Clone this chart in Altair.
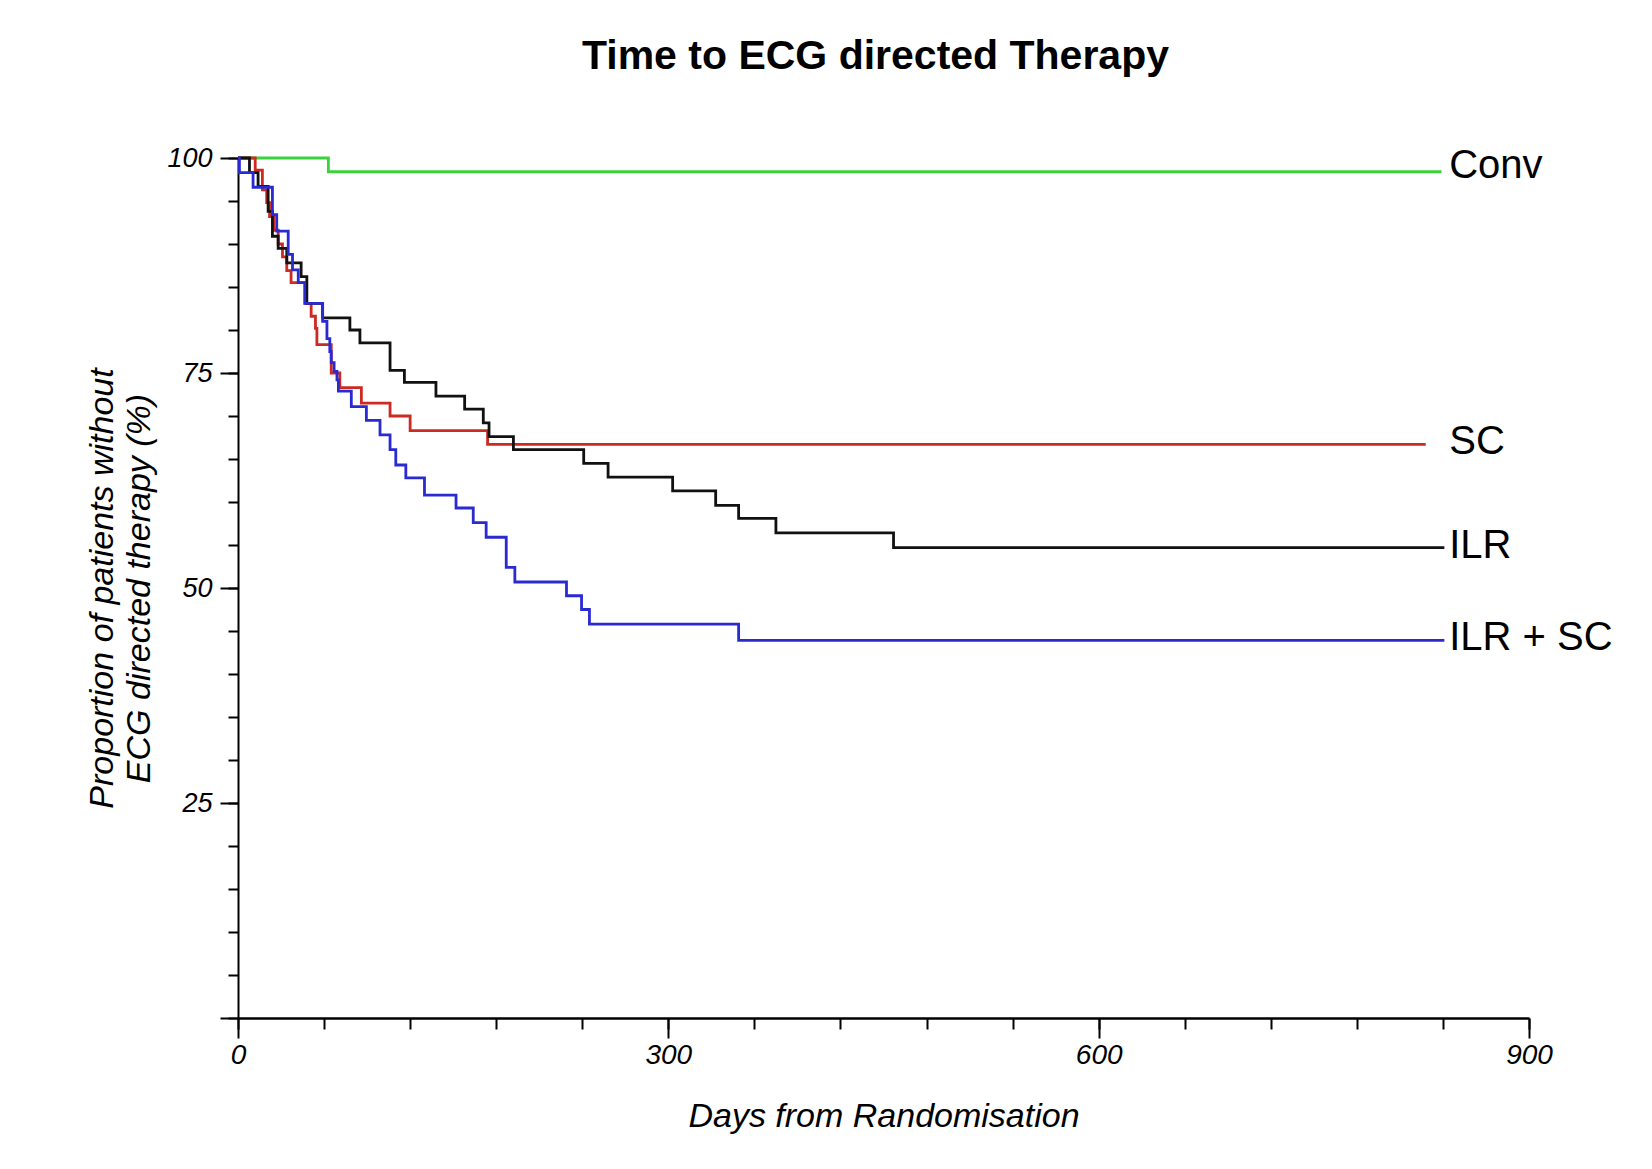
import altair as alt
import pandas as pd

# ---- data (Kaplan-Meier style step curves) ----
groups = ["Conv", "SC", "ILR", "ILR + SC"]
colors = ["#3ad23a", "#cc2a22", "#111111", "#2a2ad2"]

conv_days = [0, 63, 839]
conv_surv = [100, 98.4, 98.4]

sc_days = [0, 12, 17, 20, 22, 25, 28, 31, 34, 37, 47, 51, 54, 55, 65, 71, 86, 106, 120, 174, 828]
sc_surv = [100, 98.6, 96.3, 94.8, 93.2, 91.6, 90.0, 88.5, 86.9, 85.5, 83.1, 81.6, 80.2, 78.3,
           75.0, 73.3, 71.5, 70.0, 68.3, 66.7, 66.7]

ilr_days = [0, 8, 14, 21, 24, 28, 34, 44, 48, 59, 78, 85, 106, 116, 138, 158, 171, 175, 192,
            241, 258, 303, 333, 349, 375, 457, 841]
ilr_surv = [100, 98.3, 96.7, 93.8, 90.9, 89.5, 87.8, 86.2, 83.1, 81.4, 80.0, 78.5, 75.3, 73.9,
            72.3, 70.8, 69.2, 67.6, 66.1, 64.5, 62.9, 61.3, 59.6, 58.1, 56.4, 54.7, 54.7]

ilrsc_days = [0, 1, 10.5, 24, 27, 35, 38, 42, 46.5, 59, 62, 64, 65, 67, 69, 70, 79, 89.5, 99,
              106, 110, 117, 130, 152, 164, 173, 187, 193, 229, 239.5, 245, 349, 841]
ilrsc_surv = [100, 98.3, 96.6, 93.4, 91.5, 88.8, 87.0, 85.5, 83.1, 81.0, 79.0, 77.5, 76.2, 75.2,
              74.2, 72.9, 71.1, 69.5, 67.8, 66.1, 64.3, 62.8, 60.8, 59.3, 57.6, 55.9, 52.4, 50.7,
              49.1, 47.5, 45.8, 43.9, 43.9]

x_major = [0, 300, 600, 900]
x_minor = list(range(0, 901, 60))
y_major = [0, 25, 50, 75, 100]
y_minor = list(range(0, 101, 5))

title_text = "Time to ECG directed Therapy"
x_title = "Days from Randomisation"
y_title = ["Proportion of patients without", "ECG directed therapy (%)"]

# ---- build tables ----
series = [
    ("Conv", conv_days, conv_surv),
    ("SC", sc_days, sc_surv),
    ("ILR", ilr_days, ilr_surv),
    ("ILR + SC", ilrsc_days, ilrsc_surv),
]
rows = []
for g, ds, ss in series:
    for d, s in zip(ds, ss):
        rows.append({"group": g, "day": d, "surv": s})
df = pd.DataFrame(rows)

label_df = pd.DataFrame({
    "group": groups,
    "day": [843] * 4,
    "surv": [conv_surv[-1], sc_surv[-1], ilr_surv[-1], ilrsc_surv[-1]],
    "label": groups,
})

FONT = "Liberation Sans"
x_scale = alt.Scale(domain=[0, 900], nice=False, zero=False)
y_scale = alt.Scale(domain=[0, 100], nice=False, zero=False)
color_scale = alt.Scale(domain=groups, range=colors)

lines = alt.Chart(df).mark_line(interpolate="step-after", strokeWidth=2.8).encode(
    x=alt.X("day:Q", scale=x_scale, axis=alt.Axis(
        values=x_major, title=x_title, orient="bottom", tickSize=20, tickWidth=2,
        domainWidth=2.5, labelFontSize=28, labelFontStyle="italic", labelFont=FONT,
        labelPadding=3, labelFlush=False, labelOverlap=False,
        titleFontSize=34, titleFontStyle="italic", titleFontWeight="normal",
        titleFont=FONT, titlePadding=30, grid=False)),
    y=alt.Y("surv:Q", scale=y_scale, axis=alt.Axis(
        values=y_major, title=y_title, orient="left", tickSize=18, tickWidth=2,
        domainWidth=2, labelFontSize=27, labelFontStyle="italic", labelFont=FONT,
        labelPadding=8, labelFlush=False, labelOverlap=False,
        labelExpr="datum.value == 0 ? '' : datum.label",
        titleFontSize=34, titleFontStyle="italic", titleFontWeight="normal",
        titleFont=FONT, titlePadding=10, titleLineHeight=37, grid=False)),
    color=alt.Color("group:N", scale=color_scale, legend=None),
    order=alt.Order("day:Q"),
)

minor = alt.Chart(df).mark_point(opacity=0).encode(
    x=alt.X("day:Q", scale=x_scale, axis=alt.Axis(
        values=x_minor, labels=False, domain=False, title=None, orient="bottom",
        tickSize=11, tickWidth=2, grid=False)),
    y=alt.Y("surv:Q", scale=y_scale, axis=alt.Axis(
        values=y_minor, labels=False, domain=False, title=None, orient="left",
        tickSize=10, tickWidth=2, grid=False)),
)

text_base = alt.Chart(label_df).encode(
    x=alt.X("day:Q", scale=x_scale, axis=None),
    y=alt.Y("surv:Q", scale=y_scale, axis=None),
    text="label:N",
)
labels_conv = text_base.transform_filter(alt.datum.group == "Conv").mark_text(
    align="left", baseline="middle", fontSize=40, font=FONT, color="black", dx=2, dy=-6
)
labels_rest = text_base.transform_filter(alt.datum.group != "Conv").mark_text(
    align="left", baseline="middle", fontSize=40, font=FONT, color="black", dx=2, dy=-2
)

chart = alt.layer(lines, minor, labels_conv, labels_rest).resolve_axis(
    x="independent", y="independent"
).properties(
    width=1291,
    height=860,
    autosize=alt.AutoSizeParams(type="none"),
    padding={"left": 230, "top": 150, "right": 115, "bottom": 143},
    background="white",
    title=alt.TitleParams(title_text, fontSize=41, fontWeight="bold", font=FONT,
                          anchor="middle", baseline="alphabetic", offset=34, dx=-8,
                          color="black"),
).configure_view(stroke=None).configure_axis(
    domainColor="black", tickColor="black", labelColor="black", titleColor="black"
)

chart.save("out.html", embed_options={"renderer": "svg", "actions": False})
